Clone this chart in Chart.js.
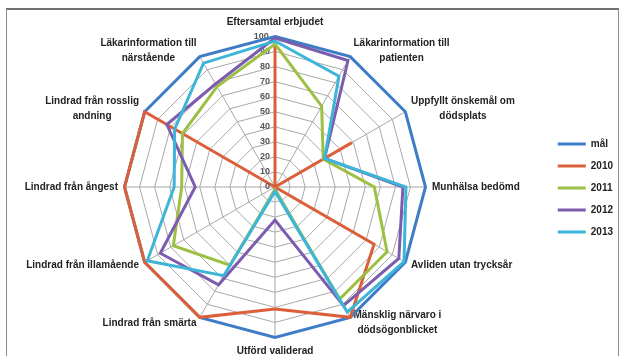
<!DOCTYPE html>
<html>
<head>
<meta charset="utf-8">
<script src="https://cdn.jsdelivr.net/npm/chart.js@4.4.0/dist/chart.umd.min.js"></script>
<style>
  html, body { margin: 0; padding: 0; background: #fff; overflow: hidden; }
  body { width: 624px; height: 356px; position: relative; }
  #frame { position: absolute; left: 6px; top: 8px; width: 613px; height: 400px;
           border: 1px solid #8c8c8c; border-top: 2px solid #707070; box-sizing: border-box; }
  #wrap { position: absolute; left: 0; top: 3px; }
</style>
</head>
<body>
<div id="frame"></div>
<div id="wrap"><canvas id="chart" width="624" height="379"></canvas></div>
<script>
// indikatorer, medsols från toppen
const categories = [
  'Eftersamtal erbjudet',
  ['Läkarinformation till', 'patienten'],
  ['Uppfyllt önskemål om', 'dödsplats'],
  'Munhälsa bedömd',
  'Avliden utan trycksår',
  ['Mänsklig närvaro i', 'dödsögonblicket'],
  ['Utförd validerad', 'smärtskattning'],
  'Lindrad från smärta',
  'Lindrad från illamående',
  'Lindrad från ångest',
  ['Lindrad från rosslig', 'andning'],
  ['Läkarinformation till', 'närstående']
];

const seriesNames = ['mål', '2010', '2011', '2012', '2013'];
const mal   = [100, 100, 100, 100, 100, 100, 100, 100, 100, 100, 100, 100];
const y2010 = [94, 0, 59, 0, 76, 100, 81, 100, 100, 100, 100, 0];
const y2011 = [95, 62, 37, 66, 86, 86, 2, 60, 78, 62, 71, 77];
const y2012 = [99, 97, 38, 85, 95, 91, 22, 75, 88, 53, 83, 79];
const y2013 = [97, 85, 38, 87, 99, 96, 3, 68, 98, 67, 77, 95];
const colors = ['#3f7cc6', '#db5f38', '#9cc043', '#7c5cae', '#3db5d8'];

const tickValues = [0, 10, 20, 30, 40, 50, 60, 70, 80, 90, 100];

const allSeries = [mal, y2010, y2011, y2012, y2013];
const FONT = '"Liberation Sans", Arial, sans-serif';

// "0" vid centrum ritas inte av Chart.js när min är 0
const zeroLabel = {
  id: 'zeroLabel',
  afterDraw(chart) {
    const s = chart.scales.r;
    const ctx = chart.ctx;
    ctx.save();
    ctx.font = 'bold 9px ' + FONT;
    ctx.fillStyle = '#555';
    ctx.textAlign = 'right';
    ctx.textBaseline = 'middle';
    ctx.fillText(String(tickValues[0]), s.xCenter - 5, s.yCenter);
    ctx.restore();
  }
};

// etiketterna centreras på sin punkt som i Excel (utom topp och botten)
function centerPointLabels(scale) {
  const items = scale._pointLabelItems;
  if (!items) return;
  const n = items.length;
  items.forEach((it, i) => {
    const deg = i * 360 / n;
    const h = it.bottom - it.top;
    it.x = (it.left + it.right) / 2;
    it.textAlign = 'center';
    if (deg === 0 || deg === 180 || deg === 90 || deg === 270) return;
    if (deg < 90 || deg > 270) it.y += h / 2;
    else it.y -= h / 2;
  });
}

new Chart(document.getElementById('chart'), {
  type: 'radar',
  data: {
    labels: categories,
    datasets: allSeries.map((d, i) => ({
      label: seriesNames[i],
      data: d,
      borderColor: colors[i],
      backgroundColor: colors[i],
      borderWidth: 3,
      pointRadius: 0,
      fill: false,
      order: allSeries.length - i
    }))
  },
  options: {
    responsive: false,
    animation: false,
    devicePixelRatio: 1,
    layout: { padding: { left: 0, right: 1, top: 5, bottom: 0 } },
    plugins: {
      legend: {
        position: 'right',
        align: 'start',
        title: { display: true, text: ' ', padding: { top: 107, bottom: 0 }, font: { size: 10 } },
        labels: {
          usePointStyle: true,
          pointStyle: 'line',
          pointStyleWidth: 28,
          padding: 12,
          color: '#222',
          font: { size: 10, family: FONT, weight: 'bold' },
          sort: (a, b) => a.datasetIndex - b.datasetIndex
        }
      },
      tooltip: { enabled: false }
    },
    scales: {
      r: {
        min: 0,
        max: 100,
        afterFit: centerPointLabels,
        ticks: {
          stepSize: 10,
          showLabelBackdrop: false,
          color: '#555',
          font: { size: 9, family: FONT, weight: 'bold' },
          callback: v => v + ' '.repeat(String(v).length * 3 + 2)
        },
        grid: { color: '#a8a8a8', lineWidth: 1 },
        angleLines: { color: '#a8a8a8', lineWidth: 1 },
        pointLabels: {
          padding: 0,
          color: '#222',
          font: { size: 10, family: FONT, weight: 'bold', lineHeight: 1.5 }
        }
      }
    }
  },
  plugins: [zeroLabel]
});
</script>
</body>
</html>
